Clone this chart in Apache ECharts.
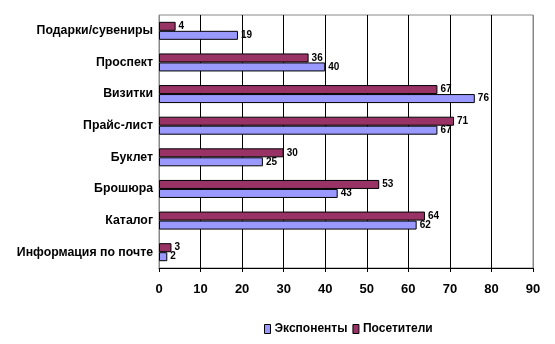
<!DOCTYPE html>
<html><head><meta charset="utf-8">
<script src="https://cdn.jsdelivr.net/npm/echarts@6/dist/echarts.min.js"></script>
<style>html,body{margin:0;padding:0;background:#fff}#c{width:555px;height:344px}</style>
</head><body><div id="c"></div>
<script>
var categories = ['Подарки/сувениры','Проспект','Визитки','Прайс-лист','Буклет','Брошюра','Каталог','Информация по почте'];
var exponents = [19, 40, 76, 67, 25, 43, 62, 2];
var visitors = [4, 36, 67, 71, 30, 53, 64, 3];
var xTicks = [0, 10, 20, 30, 40, 50, 60, 70, 80, 90];
var seriesNames = ['Экспоненты', 'Посетители'];

var font = 'Liberation Sans, Arial, sans-serif';
var chart = echarts.init(document.getElementById('c'), null, {renderer: 'canvas'});
var gridColors = xTicks.map(function (v, i) { return (i === 0 || i === xTicks.length - 1) ? '#888' : '#000'; });
chart.setOption({
  animation: false,
  backgroundColor: '#fff',
  grid: {left: 159, right: 22, top: 15, bottom: 76, show: true, borderColor: '#888', borderWidth: 1},
  legend: {
    data: seriesNames,
    top: 318, left: 259, itemWidth: 6, itemHeight: 9, itemGap: 5,
    textStyle: {fontFamily: font, fontSize: 12, fontWeight: 'bold', color: '#000', padding: [0, 0, 0, -1]},
    icon: 'rect', itemStyle: {borderColor: '#000', borderWidth: 1}
  },
  xAxis: {
    type: 'value', min: xTicks[0], max: xTicks[xTicks.length - 1], interval: 10,
    axisLine: {show: true, lineStyle: {color: '#000'}},
    axisTick: {show: true, length: 4, lineStyle: {color: '#000'}},
    axisLabel: {margin: 15, fontFamily: font, fontSize: 13, fontWeight: 'bold', color: '#000'},
    splitLine: {show: true, lineStyle: {color: gridColors, width: 1}}
  },
  yAxis: {
    type: 'category', data: categories, inverse: true,
    axisLine: {show: false}, axisTick: {show: false},
    axisLabel: {margin: 6, fontFamily: font, fontSize: 12.3, fontWeight: 'bold', color: '#000'}
  },
  series: [
    {
      name: seriesNames[1], type: 'bar', data: visitors, barWidth: 9, barGap: '0%',
      itemStyle: {color: '#993366', borderColor: '#000', borderWidth: 1},
      label: {show: true, position: 'right', distance: 3, fontFamily: font, fontSize: 10, fontWeight: 'bold', color: '#000'}
    },
    {
      name: seriesNames[0], type: 'bar', data: exponents, barWidth: 9, barGap: '0%',
      itemStyle: {color: '#9999FF', borderColor: '#000', borderWidth: 1},
      label: {show: true, position: 'right', distance: 3, fontFamily: font, fontSize: 10, fontWeight: 'bold', color: '#000'}
    }
  ]
});
</script></body></html>
